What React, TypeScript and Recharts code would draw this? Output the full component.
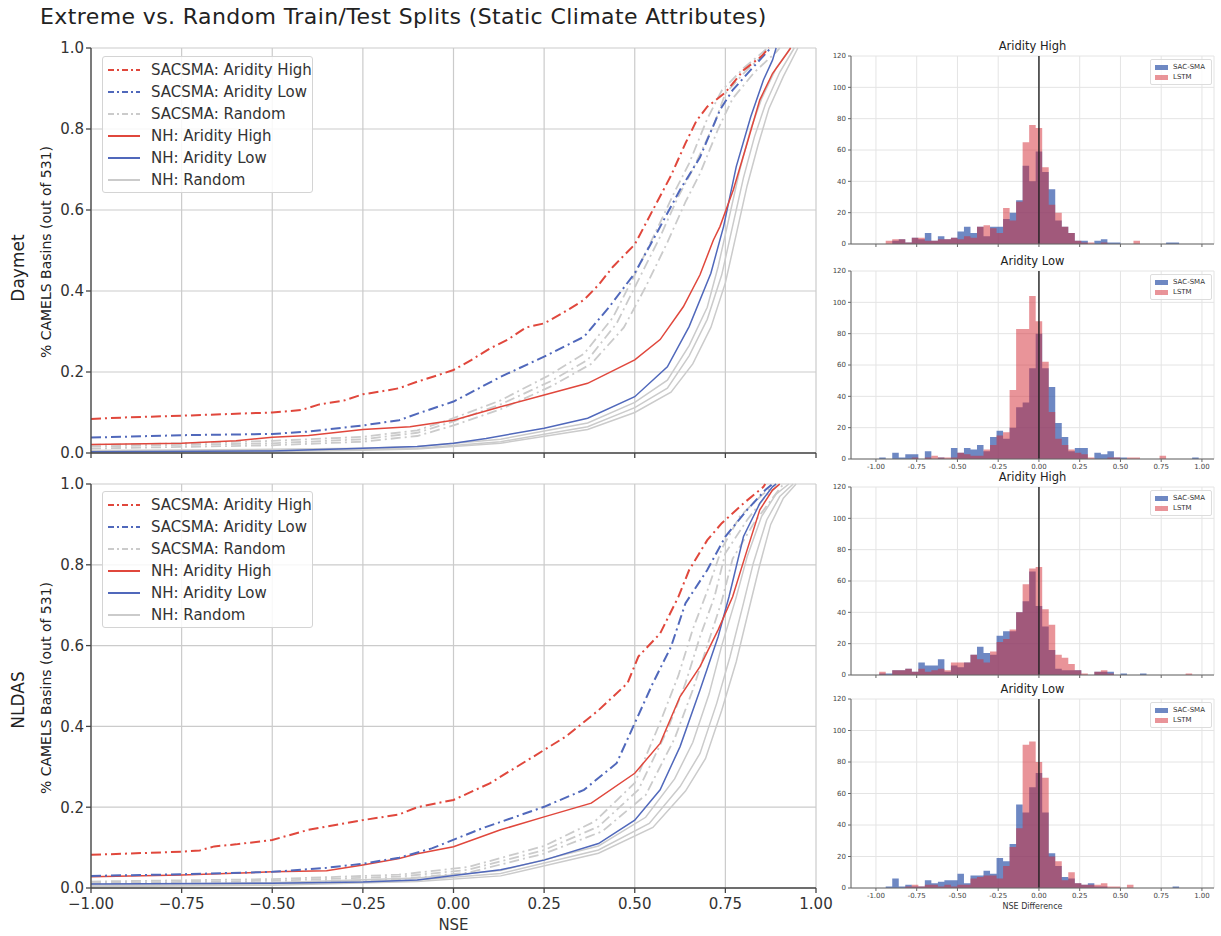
import React from 'react';
import { LineChart, Line, AreaChart, Area, XAxis, YAxis, CartesianGrid, ReferenceLine } from 'recharts';

type Pt = [number, number];

const FONT = "'DejaVu Sans', sans-serif";

// ---------- CDF curves (NSE, fraction of basins) ----------
const nseTicks = [-1, -0.75, -0.5, -0.25, 0, 0.25, 0.5, 0.75, 1];
const cdfTicks = [0, 0.2, 0.4, 0.6, 0.8, 1];

// Daymet
const dayRedDash: Pt[] = [[-1,0.084],[-0.9,0.088],[-0.75,0.092],[-0.6,0.097],[-0.5,0.1],[-0.42,0.106],[-0.37,0.12],[-0.3,0.13],[-0.25,0.145],[-0.2,0.152],[-0.15,0.16],[-0.1,0.176],[-0.05,0.19],[0,0.205],[0.05,0.23],[0.1,0.258],[0.15,0.28],[0.2,0.31],[0.25,0.32],[0.3,0.345],[0.36,0.378],[0.4,0.415],[0.44,0.46],[0.5,0.515],[0.55,0.6],[0.6,0.685],[0.64,0.765],[0.67,0.82],[0.7,0.855],[0.75,0.89],[0.8,0.945],[0.85,0.98],[0.87,1]];
const dayBlueDash: Pt[] = [[-1,0.038],[-0.75,0.044],[-0.5,0.047],[-0.4,0.053],[-0.25,0.068],[-0.15,0.081],[-0.09,0.1],[0,0.127],[0.13,0.188],[0.25,0.238],[0.36,0.287],[0.43,0.361],[0.5,0.444],[0.56,0.542],[0.625,0.65],[0.68,0.73],[0.735,0.847],[0.77,0.896],[0.82,0.946],[0.87,0.995],[0.88,1]];
const dayGrayDashA: Pt[] = [[-1,0.016],[-0.75,0.02],[-0.5,0.024],[-0.25,0.034],[-0.1,0.05],[0,0.078],[0.13,0.12],[0.27,0.178],[0.37,0.23],[0.45,0.32],[0.51,0.427],[0.57,0.534],[0.62,0.633],[0.66,0.7],[0.72,0.814],[0.75,0.888],[0.81,0.946],[0.87,0.995],[0.88,1]];
const dayGrayDashB: Pt[] = [[-1,0.011],[-0.75,0.015],[-0.5,0.019],[-0.25,0.028],[-0.1,0.042],[0,0.068],[0.13,0.108],[0.27,0.165],[0.38,0.22],[0.47,0.31],[0.53,0.41],[0.59,0.52],[0.64,0.62],[0.68,0.69],[0.73,0.8],[0.77,0.875],[0.83,0.94],[0.89,0.99],[0.9,1]];
const dayGrayDashC: Pt[] = [[-1,0.02],[-0.75,0.024],[-0.5,0.03],[-0.25,0.04],[-0.1,0.056],[0,0.086],[0.13,0.13],[0.26,0.19],[0.36,0.245],[0.44,0.335],[0.5,0.44],[0.56,0.55],[0.61,0.645],[0.65,0.715],[0.7,0.825],[0.74,0.895],[0.8,0.95],[0.86,0.995],[0.87,1]];
const dayRedSolid: Pt[] = [[-1,0.021],[-0.75,0.024],[-0.6,0.03],[-0.5,0.039],[-0.4,0.043],[-0.3,0.053],[-0.25,0.058],[-0.12,0.065],[0,0.081],[0.13,0.114],[0.25,0.143],[0.37,0.172],[0.5,0.23],[0.57,0.28],[0.634,0.361],[0.68,0.44],[0.717,0.526],[0.735,0.559],[0.772,0.65],[0.81,0.765],[0.845,0.872],[0.88,0.937],[0.92,0.987],[0.93,1]];
const dayBlueSolid: Pt[] = [[-1,0.003],[-0.5,0.005],[-0.25,0.012],[-0.1,0.016],[0,0.024],[0.09,0.036],[0.25,0.061],[0.37,0.086],[0.5,0.139],[0.59,0.213],[0.65,0.312],[0.71,0.444],[0.745,0.559],[0.78,0.707],[0.82,0.83],[0.855,0.921],[0.88,0.97],[0.89,1]];
const dayGraySolidA: Pt[] = [[-1,0.004],[-0.5,0.006],[-0.25,0.009],[-0.1,0.012],[0.13,0.028],[0.37,0.065],[0.5,0.112],[0.59,0.16],[0.65,0.24],[0.7,0.33],[0.74,0.44],[0.77,0.56],[0.8,0.68],[0.83,0.78],[0.86,0.86],[0.9,0.94],[0.94,1]];
const dayGraySolidB: Pt[] = [[-1,0.006],[-0.5,0.009],[-0.25,0.012],[-0.1,0.016],[0.13,0.034],[0.37,0.074],[0.5,0.125],[0.59,0.18],[0.65,0.265],[0.7,0.36],[0.73,0.46],[0.76,0.58],[0.79,0.7],[0.82,0.8],[0.85,0.875],[0.89,0.95],[0.93,1]];
const dayGraySolidC: Pt[] = [[-1,0.002],[-0.5,0.004],[-0.25,0.007],[-0.1,0.01],[0.13,0.024],[0.37,0.058],[0.5,0.1],[0.6,0.15],[0.66,0.22],[0.71,0.31],[0.75,0.42],[0.78,0.54],[0.81,0.66],[0.84,0.76],[0.87,0.85],[0.91,0.93],[0.95,1]];

// NLDAS
const nlRedDash: Pt[] = [[-1,0.082],[-0.75,0.09],[-0.7,0.093],[-0.66,0.103],[-0.6,0.108],[-0.5,0.119],[-0.4,0.144],[-0.25,0.168],[-0.15,0.182],[-0.1,0.2],[0,0.218],[0.1,0.259],[0.22,0.325],[0.31,0.375],[0.4,0.44],[0.48,0.507],[0.51,0.573],[0.57,0.63],[0.62,0.72],[0.65,0.787],[0.7,0.861],[0.74,0.903],[0.8,0.952],[0.855,0.993],[0.86,1]];
const nlBlueDash: Pt[] = [[-1,0.03],[-0.75,0.034],[-0.5,0.04],[-0.35,0.05],[-0.25,0.06],[-0.15,0.075],[-0.06,0.098],[0.08,0.148],[0.25,0.201],[0.36,0.243],[0.45,0.309],[0.5,0.408],[0.55,0.507],[0.6,0.597],[0.64,0.705],[0.7,0.787],[0.75,0.87],[0.81,0.936],[0.86,0.985],[0.88,1]];
const nlGrayDashA: Pt[] = [[-1,0.012],[-0.5,0.018],[-0.15,0.028],[0.04,0.045],[0.25,0.094],[0.4,0.152],[0.51,0.243],[0.59,0.391],[0.64,0.507],[0.68,0.622],[0.72,0.721],[0.75,0.829],[0.81,0.911],[0.86,0.969],[0.9,1]];
const nlGrayDashB: Pt[] = [[-1,0.008],[-0.5,0.013],[-0.15,0.022],[0.04,0.038],[0.25,0.085],[0.41,0.14],[0.53,0.23],[0.61,0.37],[0.66,0.49],[0.7,0.6],[0.74,0.71],[0.77,0.815],[0.83,0.905],[0.88,0.965],[0.91,1]];
const nlGrayDashC: Pt[] = [[-1,0.016],[-0.5,0.022],[-0.15,0.033],[0.04,0.052],[0.25,0.104],[0.39,0.165],[0.5,0.26],[0.57,0.41],[0.62,0.525],[0.66,0.64],[0.7,0.735],[0.74,0.84],[0.79,0.92],[0.85,0.972],[0.89,1]];
const nlRedSolid: Pt[] = [[-1,0.028],[-0.75,0.032],[-0.5,0.04],[-0.35,0.043],[-0.25,0.057],[-0.15,0.073],[-0.1,0.085],[0,0.102],[0.13,0.144],[0.25,0.176],[0.38,0.21],[0.5,0.284],[0.57,0.358],[0.625,0.474],[0.68,0.548],[0.73,0.639],[0.77,0.721],[0.81,0.837],[0.845,0.936],[0.88,0.985],[0.9,1]];
const nlBlueSolid: Pt[] = [[-1,0.01],[-0.5,0.012],[-0.25,0.015],[-0.1,0.02],[0.13,0.045],[0.25,0.069],[0.4,0.11],[0.5,0.168],[0.57,0.243],[0.625,0.35],[0.68,0.49],[0.73,0.622],[0.76,0.721],[0.8,0.87],[0.845,0.952],[0.88,0.993],[0.89,1]];
const nlGraySolidA: Pt[] = [[-1,0.005],[-0.5,0.01],[-0.1,0.02],[0.13,0.036],[0.4,0.094],[0.54,0.16],[0.625,0.251],[0.68,0.333],[0.726,0.457],[0.763,0.573],[0.8,0.705],[0.827,0.804],[0.864,0.911],[0.9,0.969],[0.937,1]];
const nlGraySolidB: Pt[] = [[-1,0.008],[-0.5,0.013],[-0.1,0.025],[0.13,0.043],[0.4,0.104],[0.53,0.175],[0.61,0.27],[0.66,0.36],[0.705,0.48],[0.74,0.6],[0.78,0.72],[0.81,0.82],[0.85,0.92],[0.89,0.975],[0.925,1]];
const nlGraySolidC: Pt[] = [[-1,0.003],[-0.5,0.007],[-0.1,0.016],[0.13,0.03],[0.4,0.086],[0.55,0.15],[0.64,0.24],[0.695,0.32],[0.74,0.44],[0.78,0.56],[0.815,0.69],[0.845,0.8],[0.875,0.9],[0.91,0.965],[0.945,1]];

// ---------- Histograms of NSE difference ----------
const diffTicks = [-1, -0.75, -0.5, -0.25, 0, 0.25, 0.5, 0.75, 1];
const countTicks = [0, 20, 40, 60, 80, 100, 120];
const binEdges = [-0.98,-0.94,-0.9,-0.86,-0.82,-0.78,-0.74,-0.7,-0.66,-0.62,-0.58,-0.54,-0.5,-0.46,-0.42,-0.38,-0.34,-0.3,-0.26,-0.22,-0.18,-0.14,-0.1,-0.06,-0.02,0.02,0.06,0.1,0.14,0.18,0.22,0.26,0.3,0.34,0.38,0.42,0.46,0.5,0.54,0.58,0.62,0.66,0.7,0.74,0.78,0.82,0.86,0.9,0.94,0.98];

const dayHighSac = [0,0,2,3,1,4,3,7,2,5,3,4,8,11,7,11,5,11,11,16,20,28,50,40,59,46,35,15,11,7,2,2,0,2,3,1,1,0,0,0,0,0,0,0,1,1,0,0,0];
const dayHighLstm = [0,2,3,3,1,4,4,2,2,3,3,4,3,5,4,11,12,10,7,23,15,27,65,76,74,49,25,20,11,7,2,1,1,0,1,0,0,0,0,2,0,0,0,0,0,0,0,0,0];
const dayLowSac = [1,0,4,1,3,3,0,5,0,1,0,7,4,7,6,9,5,14,18,13,20,33,36,58,80,58,46,23,14,5,7,7,0,4,3,5,1,1,0,0,0,0,0,0,0,0,0,0,1];
const dayLowLstm = [0,0,0,0,0,1,0,1,2,1,1,1,4,3,2,2,6,9,15,17,44,83,83,104,88,62,30,13,9,6,4,3,1,0,0,1,1,0,1,1,0,0,0,2,0,0,0,0,0];
const nlHighSac = [1,1,3,3,4,2,8,6,6,10,2,6,5,8,13,18,14,13,25,28,28,40,47,66,44,31,16,4,3,3,3,0,0,2,2,2,0,1,0,0,1,0,0,0,0,0,0,0,0];
const nlHighLstm = [2,0,3,3,4,2,4,2,3,4,3,8,8,8,13,10,8,15,21,23,29,40,58,68,69,42,32,13,11,7,3,1,0,2,3,1,0,0,0,0,0,0,0,0,0,0,0,1,0];
const nlLowSac = [0,1,6,1,2,1,1,5,3,4,5,5,9,3,8,8,11,9,19,17,28,53,48,64,73,48,22,14,7,6,3,2,3,1,1,0,0,0,0,0,0,0,0,0,0,1,0,0,0];
const nlLowLstm = [0,0,0,0,1,2,1,2,2,1,2,1,2,2,6,7,8,8,6,14,26,38,91,93,80,70,20,17,5,10,3,2,2,2,3,1,1,0,2,0,0,0,0,0,0,0,0,0,0];

const RED = '#e0473c';
const BLUE = '#5068bb';
const GRAY = '#cbcbcb';
const DASHDOT = '10 4 2 4';
const SAC_FILL = '#2a4fa6';
const LSTM_FILL = '#d42a33';

const toXY = (pts: Pt[]) => pts.map(([x, y]) => ({ x, y }));

interface Curve { pts: Pt[]; color: string; dash?: string; width: number }

const legendItems = [
  { label: 'SACSMA: Aridity High', color: RED, dash: DASHDOT },
  { label: 'SACSMA: Aridity Low', color: BLUE, dash: DASHDOT },
  { label: 'SACSMA: Random', color: GRAY, dash: DASHDOT },
  { label: 'NH: Aridity High', color: RED },
  { label: 'NH: Aridity Low', color: BLUE },
  { label: 'NH: Random', color: GRAY },
];

const CdfLegend = ({ top }: { top: number }) => (
  <div style={{ position: 'absolute', left: 102, top, width: 211, height: 137, border: '1px solid #d4d4d4', borderRadius: 3, background: 'rgba(255,255,255,0.85)', boxSizing: 'border-box' }}>
    {legendItems.map((it, i) => (
      <div key={it.label} style={{ position: 'absolute', left: 5, top: 3 + i * 22, height: 20, display: 'flex', alignItems: 'center' }}>
        <svg width={32} height={6}>
          <line x1={0} y1={3} x2={32} y2={3} stroke={it.color} strokeWidth={2} strokeDasharray={it.dash ? '6 3 2 3' : undefined} />
        </svg>
        <span style={{ marginLeft: 11, fontSize: 15, color: '#333', fontFamily: FONT, whiteSpace: 'nowrap' }}>{it.label}</span>
      </div>
    ))}
  </div>
);

const CdfPanel = ({ top, curves, showX }: { top: number; curves: Curve[]; showX: boolean }) => {
  const xh = showX ? 34 : 14;
  const plotH = showX ? 404 : 405;
  return (
    <div style={{ position: 'absolute', left: 0, top }}>
      <LineChart width={840} height={8 + plotH + xh} margin={{ top: 8, right: 24, left: 0, bottom: 0 }}>
        <CartesianGrid xAxisId="b" yAxisId="l" stroke="#cbcbcb" strokeWidth={1.2} />
        <XAxis xAxisId="b" type="number" dataKey="x" domain={[-1, 1]} ticks={nseTicks} height={xh} interval={0}
          tickFormatter={(v: number) => (showX ? v.toFixed(2).replace('-', '\u2212') : '')}
          tick={{ fontSize: 15, fill: '#333', fontFamily: FONT }} tickSize={5} tickMargin={5} stroke="#444" strokeWidth={1.3} />
        <XAxis xAxisId="t" orientation="top" type="number" domain={[-1, 1]} height={0} tick={false} stroke="#444" strokeWidth={1.3} />
        <YAxis yAxisId="l" type="number" domain={[0, 1]} ticks={cdfTicks} width={91} interval={0}
          tickFormatter={(v: number) => v.toFixed(1)} tick={{ fontSize: 15, fill: '#333', fontFamily: FONT }} tickSize={5} stroke="#444" strokeWidth={1.3} />
        <YAxis yAxisId="r" orientation="right" type="number" domain={[0, 1]} width={0} tick={false} stroke="#444" strokeWidth={1.3} />
        {curves.map((c, i) => (
          <Line key={i} xAxisId="b" yAxisId="l" data={toXY(c.pts)} dataKey="y" type="linear" stroke={c.color}
            strokeWidth={c.width} strokeDasharray={c.dash} dot={false} isAnimationActive={false} />
        ))}
      </LineChart>
    </div>
  );
};

const HistPanel = ({ plotTop, plotBottom, title, sac, lstm, showX, xLabel }:
  { plotTop: number; plotBottom: number; title: string; sac: number[]; lstm: number[]; showX: boolean; xLabel?: string }) => {
  const data = binEdges.map((x, i) => ({ x, sac: sac[i] ?? 0, lstm: lstm[i] ?? 0 }));
  const mt = 4;
  const xh = showX ? 14 : 4;
  return (
    <>
      <div style={{ position: 'absolute', left: 851, width: 363, top: plotTop - 17, textAlign: 'center', fontSize: 11.5, color: '#222', fontFamily: FONT }}>{title}</div>
      <div style={{ position: 'absolute', left: 820, top: plotTop - mt }}>
        <AreaChart width={401} height={mt + (plotBottom - plotTop) + xh} data={data} margin={{ top: mt, right: 7, left: 0, bottom: 0 }}>
          <CartesianGrid xAxisId="b" yAxisId="l" stroke="#e4e4e4" />
          <XAxis xAxisId="b" type="number" dataKey="x" domain={[-1.153, 1.074]} ticks={diffTicks} height={xh} interval={0}
            tickFormatter={(v: number) => (showX ? v.toFixed(2) : '')} tick={{ fontSize: 7, fill: '#444', fontFamily: FONT }}
            tickSize={3} stroke="#666" />
          <XAxis xAxisId="t" orientation="top" type="number" domain={[-1.153, 1.074]} height={0} tick={false} stroke="#666" />
          <YAxis yAxisId="l" type="number" domain={[0, 120]} ticks={countTicks} width={31} interval={0}
            tick={{ fontSize: 7, fill: '#444', fontFamily: FONT }} tickSize={3} stroke="#666" />
          <YAxis yAxisId="r" orientation="right" type="number" domain={[0, 120]} width={0} tick={false} stroke="#666" />
          <Area xAxisId="b" yAxisId="l" type="stepAfter" dataKey="sac" stroke="none" fill={SAC_FILL} fillOpacity={0.68} isAnimationActive={false} />
          <Area xAxisId="b" yAxisId="l" type="stepAfter" dataKey="lstm" stroke="none" fill={LSTM_FILL} fillOpacity={0.5} isAnimationActive={false} />
          <ReferenceLine xAxisId="b" yAxisId="l" x={0} stroke="#222" strokeWidth={1.4} />
        </AreaChart>
      </div>
      <div style={{ position: 'absolute', left: 1150, top: plotTop + 3, width: 60, height: 24, border: '1px solid #ddd', borderRadius: 2, background: 'rgba(255,255,255,0.8)', fontSize: 7, color: '#333', fontFamily: FONT }}>
        <div style={{ position: 'absolute', left: 4, top: 3, display: 'flex', alignItems: 'center' }}>
          <span style={{ width: 13, height: 5, background: SAC_FILL, opacity: 0.68, display: 'inline-block' }} />
          <span style={{ marginLeft: 5 }}>SAC-SMA</span>
        </div>
        <div style={{ position: 'absolute', left: 4, top: 13, display: 'flex', alignItems: 'center' }}>
          <span style={{ width: 13, height: 5, background: LSTM_FILL, opacity: 0.5, display: 'inline-block' }} />
          <span style={{ marginLeft: 5 }}>LSTM</span>
        </div>
      </div>
      {xLabel && (
        <div style={{ position: 'absolute', left: 851, width: 363, top: plotBottom + 14, textAlign: 'center', fontSize: 8, color: '#333', fontFamily: FONT }}>{xLabel}</div>
      )}
    </>
  );
};

const RotLabel = ({ x, y, text, size }: { x: number; y: number; text: string; size: number }) => (
  <div style={{ position: 'absolute', left: x, top: y, transform: 'translate(-50%, -50%) rotate(-90deg)', whiteSpace: 'nowrap', fontSize: size, color: '#222', fontFamily: FONT }}>{text}</div>
);

const dayCurves: Curve[] = [
  { pts: dayGrayDashA, color: GRAY, dash: DASHDOT, width: 1.8 },
  { pts: dayGrayDashB, color: GRAY, dash: DASHDOT, width: 1.8 },
  { pts: dayGrayDashC, color: GRAY, dash: DASHDOT, width: 1.8 },
  { pts: dayGraySolidA, color: GRAY, width: 1.5 },
  { pts: dayGraySolidB, color: GRAY, width: 1.5 },
  { pts: dayGraySolidC, color: GRAY, width: 1.5 },
  { pts: dayBlueSolid, color: BLUE, width: 1.5 },
  { pts: dayRedSolid, color: RED, width: 1.5 },
  { pts: dayBlueDash, color: BLUE, dash: DASHDOT, width: 2 },
  { pts: dayRedDash, color: RED, dash: DASHDOT, width: 2 },
];

const nlCurves: Curve[] = [
  { pts: nlGrayDashA, color: GRAY, dash: DASHDOT, width: 1.8 },
  { pts: nlGrayDashB, color: GRAY, dash: DASHDOT, width: 1.8 },
  { pts: nlGrayDashC, color: GRAY, dash: DASHDOT, width: 1.8 },
  { pts: nlGraySolidA, color: GRAY, width: 1.5 },
  { pts: nlGraySolidB, color: GRAY, width: 1.5 },
  { pts: nlGraySolidC, color: GRAY, width: 1.5 },
  { pts: nlBlueSolid, color: BLUE, width: 1.5 },
  { pts: nlRedSolid, color: RED, width: 1.5 },
  { pts: nlBlueDash, color: BLUE, dash: DASHDOT, width: 2 },
  { pts: nlRedDash, color: RED, dash: DASHDOT, width: 2 },
];

export default function App() {
  return (
    <div style={{ position: 'absolute', left: 0, top: 0, width: 1221, height: 936, background: '#fff', overflow: 'hidden', fontFamily: FONT }}>
      <div style={{ position: 'absolute', left: 40, top: 4, fontSize: 22, letterSpacing: 0.4, color: '#222', whiteSpace: 'nowrap' }}>
        Extreme vs. Random Train/Test Splits (Static Climate Attributes)
      </div>

      <CdfPanel top={40} curves={dayCurves} showX={false} />
      <CdfPanel top={476} curves={nlCurves} showX={true} />
      <CdfLegend top={56} />
      <CdfLegend top={491} />

      <RotLabel x={18} y={268} text="Daymet" size={17} />
      <RotLabel x={46} y={252} text="% CAMELS Basins (out of 531)" size={14} />
      <RotLabel x={18} y={700} text="NLDAS" size={17} />
      <RotLabel x={46} y={688} text="% CAMELS Basins (out of 531)" size={14} />
      <div style={{ position: 'absolute', left: 91, width: 725, top: 916, textAlign: 'center', fontSize: 15, color: '#333' }}>NSE</div>

      <HistPanel plotTop={56} plotBottom={244} title="Aridity High" sac={dayHighSac} lstm={dayHighLstm} showX={false} />
      <HistPanel plotTop={271} plotBottom={459} title="Aridity Low" sac={dayLowSac} lstm={dayLowLstm} showX={true} />
      <HistPanel plotTop={487} plotBottom={675} title="Aridity High" sac={nlHighSac} lstm={nlHighLstm} showX={false} />
      <HistPanel plotTop={699} plotBottom={888} title="Aridity Low" sac={nlLowSac} lstm={nlLowLstm} showX={true} xLabel="NSE Difference" />
    </div>
  );
}
